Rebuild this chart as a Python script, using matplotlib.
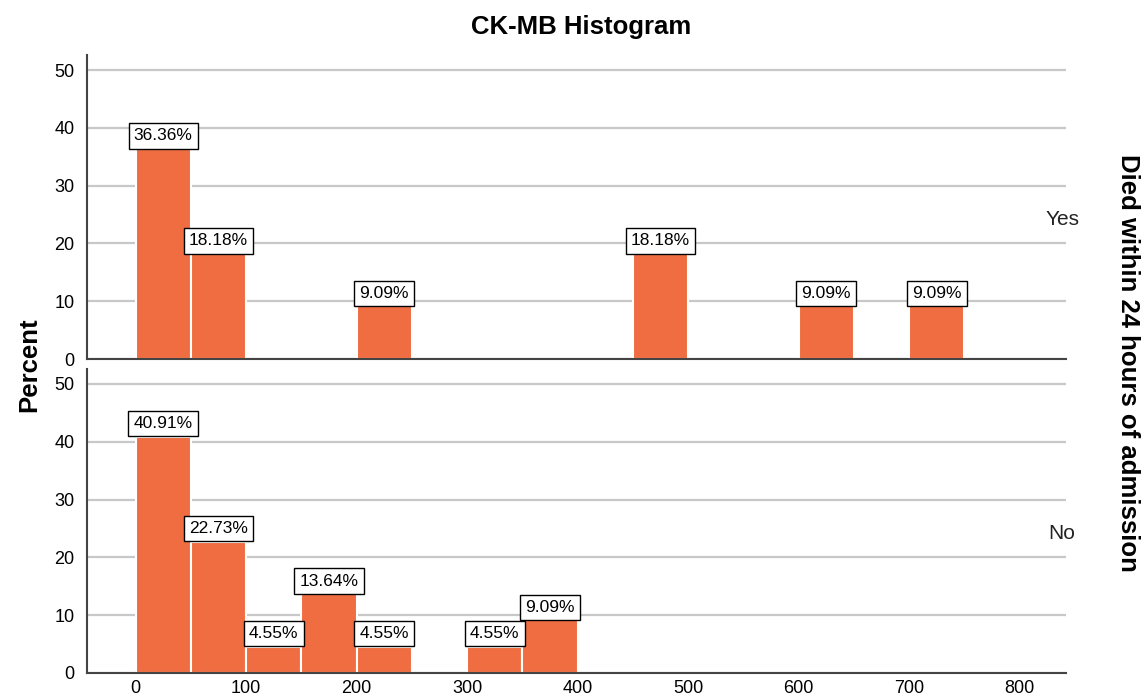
import matplotlib
matplotlib.use('Agg')
from matplotlib import pyplot as plt

plt.rcParams['font.family'] = ['Liberation Sans', 'DejaVu Sans']

# histogram bins (lower edge, width 50) and percent per bin
bin_width = 50
yes_bins = [0, 50, 200, 450, 600, 700]
yes_pct = [36.36, 18.18, 9.09, 18.18, 9.09, 9.09]
no_bins = [0, 50, 100, 150, 200, 300, 350]
no_pct = [40.91, 22.73, 4.55, 13.64, 4.55, 4.55, 9.09]

x_ticks = [0, 100, 200, 300, 400, 500, 600, 700, 800]
y_ticks = [0, 10, 20, 30, 40, 50]

bar_color = '#EF6D40'
grid_color = '#C8C8C8'
spine_color = '#444444'


def draw_panel(ax, bins, pct, group, show_x):
    ax.set_axisbelow(True)
    ax.yaxis.grid(True, color=grid_color, linewidth=1.6)
    ax.bar(bins, pct, width=bin_width, align='edge', color=bar_color,
           edgecolor='white', linewidth=1.5, zorder=2)
    for b, p in zip(bins, pct):
        ax.annotate('{0:.2f}%'.format(p), (b + bin_width / 2, p),
                    xytext=(0, 4.0), textcoords='offset points',
                    ha='center', va='bottom', fontsize=12.5, zorder=4,
                    bbox=dict(boxstyle='square,pad=0.3', fc='white',
                              ec='black', lw=1))
    ax.set_xlim(-44, 842)
    ax.set_ylim(0, 52.6)
    ax.set_yticks(y_ticks)
    ax.set_xticks(x_ticks)
    ax.tick_params(length=0, labelsize=13, pad=9)
    ax.tick_params(axis='x', pad=5)
    if not show_x:
        ax.set_xticklabels([])
    for s in ['top', 'right']:
        ax.spines[s].set_visible(False)
    for s in ['left', 'bottom']:
        ax.spines[s].set_color(spine_color)
        ax.spines[s].set_linewidth(1.5)
    ax.text(0.996, 0.46, group, transform=ax.transAxes, ha='center',
            va='center', fontsize=15, color='#222222')


fig = plt.figure(figsize=(11.44, 7.0), dpi=100)
ax_yes = fig.add_axes([0.076, 0.4871, 0.8558, 0.4343])
ax_no = fig.add_axes([0.076, 0.0386, 0.8558, 0.4343])

draw_panel(ax_yes, yes_bins, yes_pct, 'Yes', False)
draw_panel(ax_no, no_bins, no_pct, 'No', True)

fig.text(0.508, 0.961, 'CK-MB Histogram', ha='center', va='center',
         fontsize=18.5, fontweight='bold')
fig.text(0.026, 0.479, 'Percent', ha='center', va='center', rotation=90,
         fontsize=18.5, fontweight='bold')
fig.text(0.986, 0.481, 'Died within 24 hours of admission', ha='center',
         va='center', rotation=270, fontsize=18.5, fontweight='bold')

fig.savefig('out.png', dpi=100)
